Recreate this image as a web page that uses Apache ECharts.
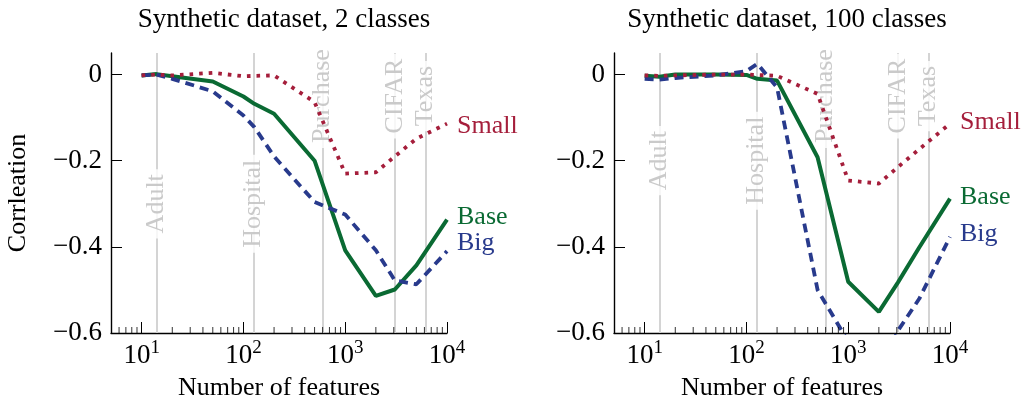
<!DOCTYPE html>
<html><head><meta charset="utf-8">
<script src="https://cdn.jsdelivr.net/npm/echarts@6/dist/echarts.min.js"></script>
<style>html,body{margin:0;padding:0;background:#fff}#c{width:1024px;height:407px}</style>
</head><body><div id="c"></div>
<script>
// ---- data ----
const features = [10, 14, 20, 50, 100, 128, 200, 500, 1000, 2000, 3072, 5000, 10000];

const base2  = [-0.002, 0.001, -0.004, -0.016, -0.051, -0.068, -0.091, -0.200, -0.408, -0.514, -0.499, -0.443, -0.337];
const big2   = [-0.002, 0.000, -0.010, -0.039, -0.095, -0.122, -0.190, -0.296, -0.325, -0.408, -0.478, -0.487, -0.410];
const small2 = [-0.002, 0.000, -0.002, 0.004, -0.004, -0.003, -0.002, -0.064, -0.230, -0.227, -0.190, -0.149, -0.114];

const base100  = [-0.003, -0.005, 0.000, 0.000, -0.001, -0.010, -0.014, -0.192, -0.481, -0.551, -0.483, -0.401, -0.288];
const big100   = [-0.010, -0.012, -0.008, -0.002, 0.008, 0.025, -0.030, -0.500, -0.620, -0.700, -0.595, -0.520, -0.377];
const small100 = [-0.002, -0.003, -0.002, 0.000, 0.000, -0.001, -0.003, -0.045, -0.246, -0.253, -0.215, -0.173, -0.114];

const datasetNames = ['Adult', 'Hospital', 'Purchase', 'CIFAR', 'Texas'];
const datasetFeatures = [14, 125, 600, 3072, 6169];
const datasetLabelY2 = [-0.3, -0.3, -0.05, -0.05, -0.05];
const datasetLabelY100 = [-0.2, -0.2, -0.05, -0.05, -0.05];

const yTicks = [-0.6, -0.4, -0.2, 0];
const minorTicks = [6, 7, 8, 9, 20, 30, 40, 50, 60, 70, 80, 90, 200, 300, 400, 500, 600, 700, 800, 900,
                    2000, 3000, 4000, 5000, 6000, 7000, 8000, 9000];
const titles = ['Synthetic dataset, 2 classes', 'Synthetic dataset, 100 classes'];

// ---- styling ----
const FONT = 'Liberation Serif';
const RED = '#A51E3B', GREEN = '#0A6A33', BLUE = '#283A8C';
const grids = [{left: 111, top: 53, width: 336, height: 280}, {left: 614, top: 53, width: 336, height: 280}];

function pair(ys) { return features.map((x, i) => [x, ys[i]]); }

const panels = [
  {base: base2, big: big2, small: small2, labelY: datasetLabelY2, offs: {small: 3, base: -3, big: -8}},
  {base: base100, big: big100, small: small100, labelY: datasetLabelY100, offs: {small: -1, base: -1, big: -3}}
];

const xAxes = [], yAxes = [], series = [], titleList = [];
panels.forEach((p, i) => {
  titleList.push({
    text: titles[i], left: grids[i].left + grids[i].width / 2, top: 1, textAlign: 'center',
    textStyle: {fontFamily: FONT, fontSize: 27, fontWeight: 'normal', color: '#000'}
  });
  xAxes.push({
    type: 'log', logBase: 10, gridIndex: i, min: 5, max: 10000,
    axisLine: {onZero: false, lineStyle: {color: '#000', width: 1.4}},
    axisTick: {inside: true, length: 11, lineStyle: {color: '#000', width: 1}},
    splitLine: {show: false},
    axisLabel: {
      margin: 6,
      formatter: v => {
        const e = Math.log10(v);
        if (Math.abs(e - Math.round(e)) > 1e-6) return '';
        return '{b|10}{s|' + Math.round(e) + '}';
      },
      rich: {
        b: {fontFamily: FONT, fontSize: 27, color: '#000', lineHeight: 34},
        s: {fontFamily: FONT, fontSize: 19, color: '#000', lineHeight: 18, verticalAlign: 'top'}
      }
    },
    name: 'Number of features', nameLocation: 'middle', nameGap: 42,
    nameTextStyle: {fontFamily: FONT, fontSize: 26, color: '#000'}
  });
  yAxes.push({
    type: 'value', gridIndex: i, min: -0.6, max: 0.05, interval: 0.2,
    axisLine: {show: true, onZero: false, lineStyle: {color: '#000', width: 1.4}},
    axisTick: {show: true, inside: true, length: 11, customValues: yTicks, lineStyle: {color: '#000', width: 1}},
    splitLine: {show: false},
    axisLabel: {
      customValues: yTicks, margin: 9, fontFamily: FONT, fontSize: 27, color: '#000',
      formatter: v => Math.abs(v) < 1e-9 ? '0' : (v < 0 ? '\u2212' : '') + Math.abs(v).toFixed(1)
    },
    name: i === 0 ? 'Corrleation' : '', nameLocation: 'middle', nameGap: 80, nameRotate: 90,
    nameTextStyle: {fontFamily: FONT, fontSize: 26, color: '#000'}
  });
  // dataset reference lines + labels
  series.push({
    type: 'scatter', xAxisIndex: i, yAxisIndex: i, z: 2, silent: true, clip: false,
    symbolSize: 1, itemStyle: {color: 'rgba(0,0,0,0)'},
    data: datasetFeatures.map((f, k) => [f, p.labelY[k]]),
    label: {
      show: true, position: 'inside', rotate: 90,
      formatter: q => datasetNames[q.dataIndex],
      fontFamily: FONT, fontSize: 26, color: '#bdbdbd',
      backgroundColor: '#fff', padding: [0, 5]
    },
    markLine: {
      silent: true, symbol: 'none', z: 1, animation: false,
      label: {show: false},
      lineStyle: {color: '#d4d4d4', width: 2, type: 'solid'},
      data: datasetFeatures.map(f => ({xAxis: f}))
    }
  });
  // minor ticks on the x axis
  series.push({
    type: 'scatter', xAxisIndex: i, yAxisIndex: i, z: 6, silent: true, clip: false,
    symbol: 'rect', symbolSize: [1, 6], symbolOffset: [0, -3],
    itemStyle: {color: '#000'},
    data: minorTicks.map(v => [v, -0.6])
  });
  const mk = (name, ys, color, width, type, dy, z) => ({
    name, type: 'line', xAxisIndex: i, yAxisIndex: i, z, symbol: 'none', clip: true,
    data: pair(ys),
    lineStyle: {color, width, type, cap: 'butt'},
    itemStyle: {color},
    endLabel: {
      show: true, formatter: name, color, fontFamily: FONT, fontSize: 26,
      distance: 10, offset: [0, dy]
    }
  });
  series.push(mk('Base', p.base, GREEN, 4, 'solid', p.offs.base, 3));
  series.push(mk('Big', p.big, BLUE, 3.8, [9, 6], p.offs.big, 4));
  series.push(mk('Small', p.small, RED, 3.8, [3.6, 6], p.offs.small, 5));
});

const chart = echarts.init(document.getElementById('c'), null, {renderer: 'canvas'});
chart.setOption({
  animation: false,
  backgroundColor: '#fff',
  title: titleList,
  grid: grids,
  xAxis: xAxes,
  yAxis: yAxes,
  series
});
</script>
</body></html>
